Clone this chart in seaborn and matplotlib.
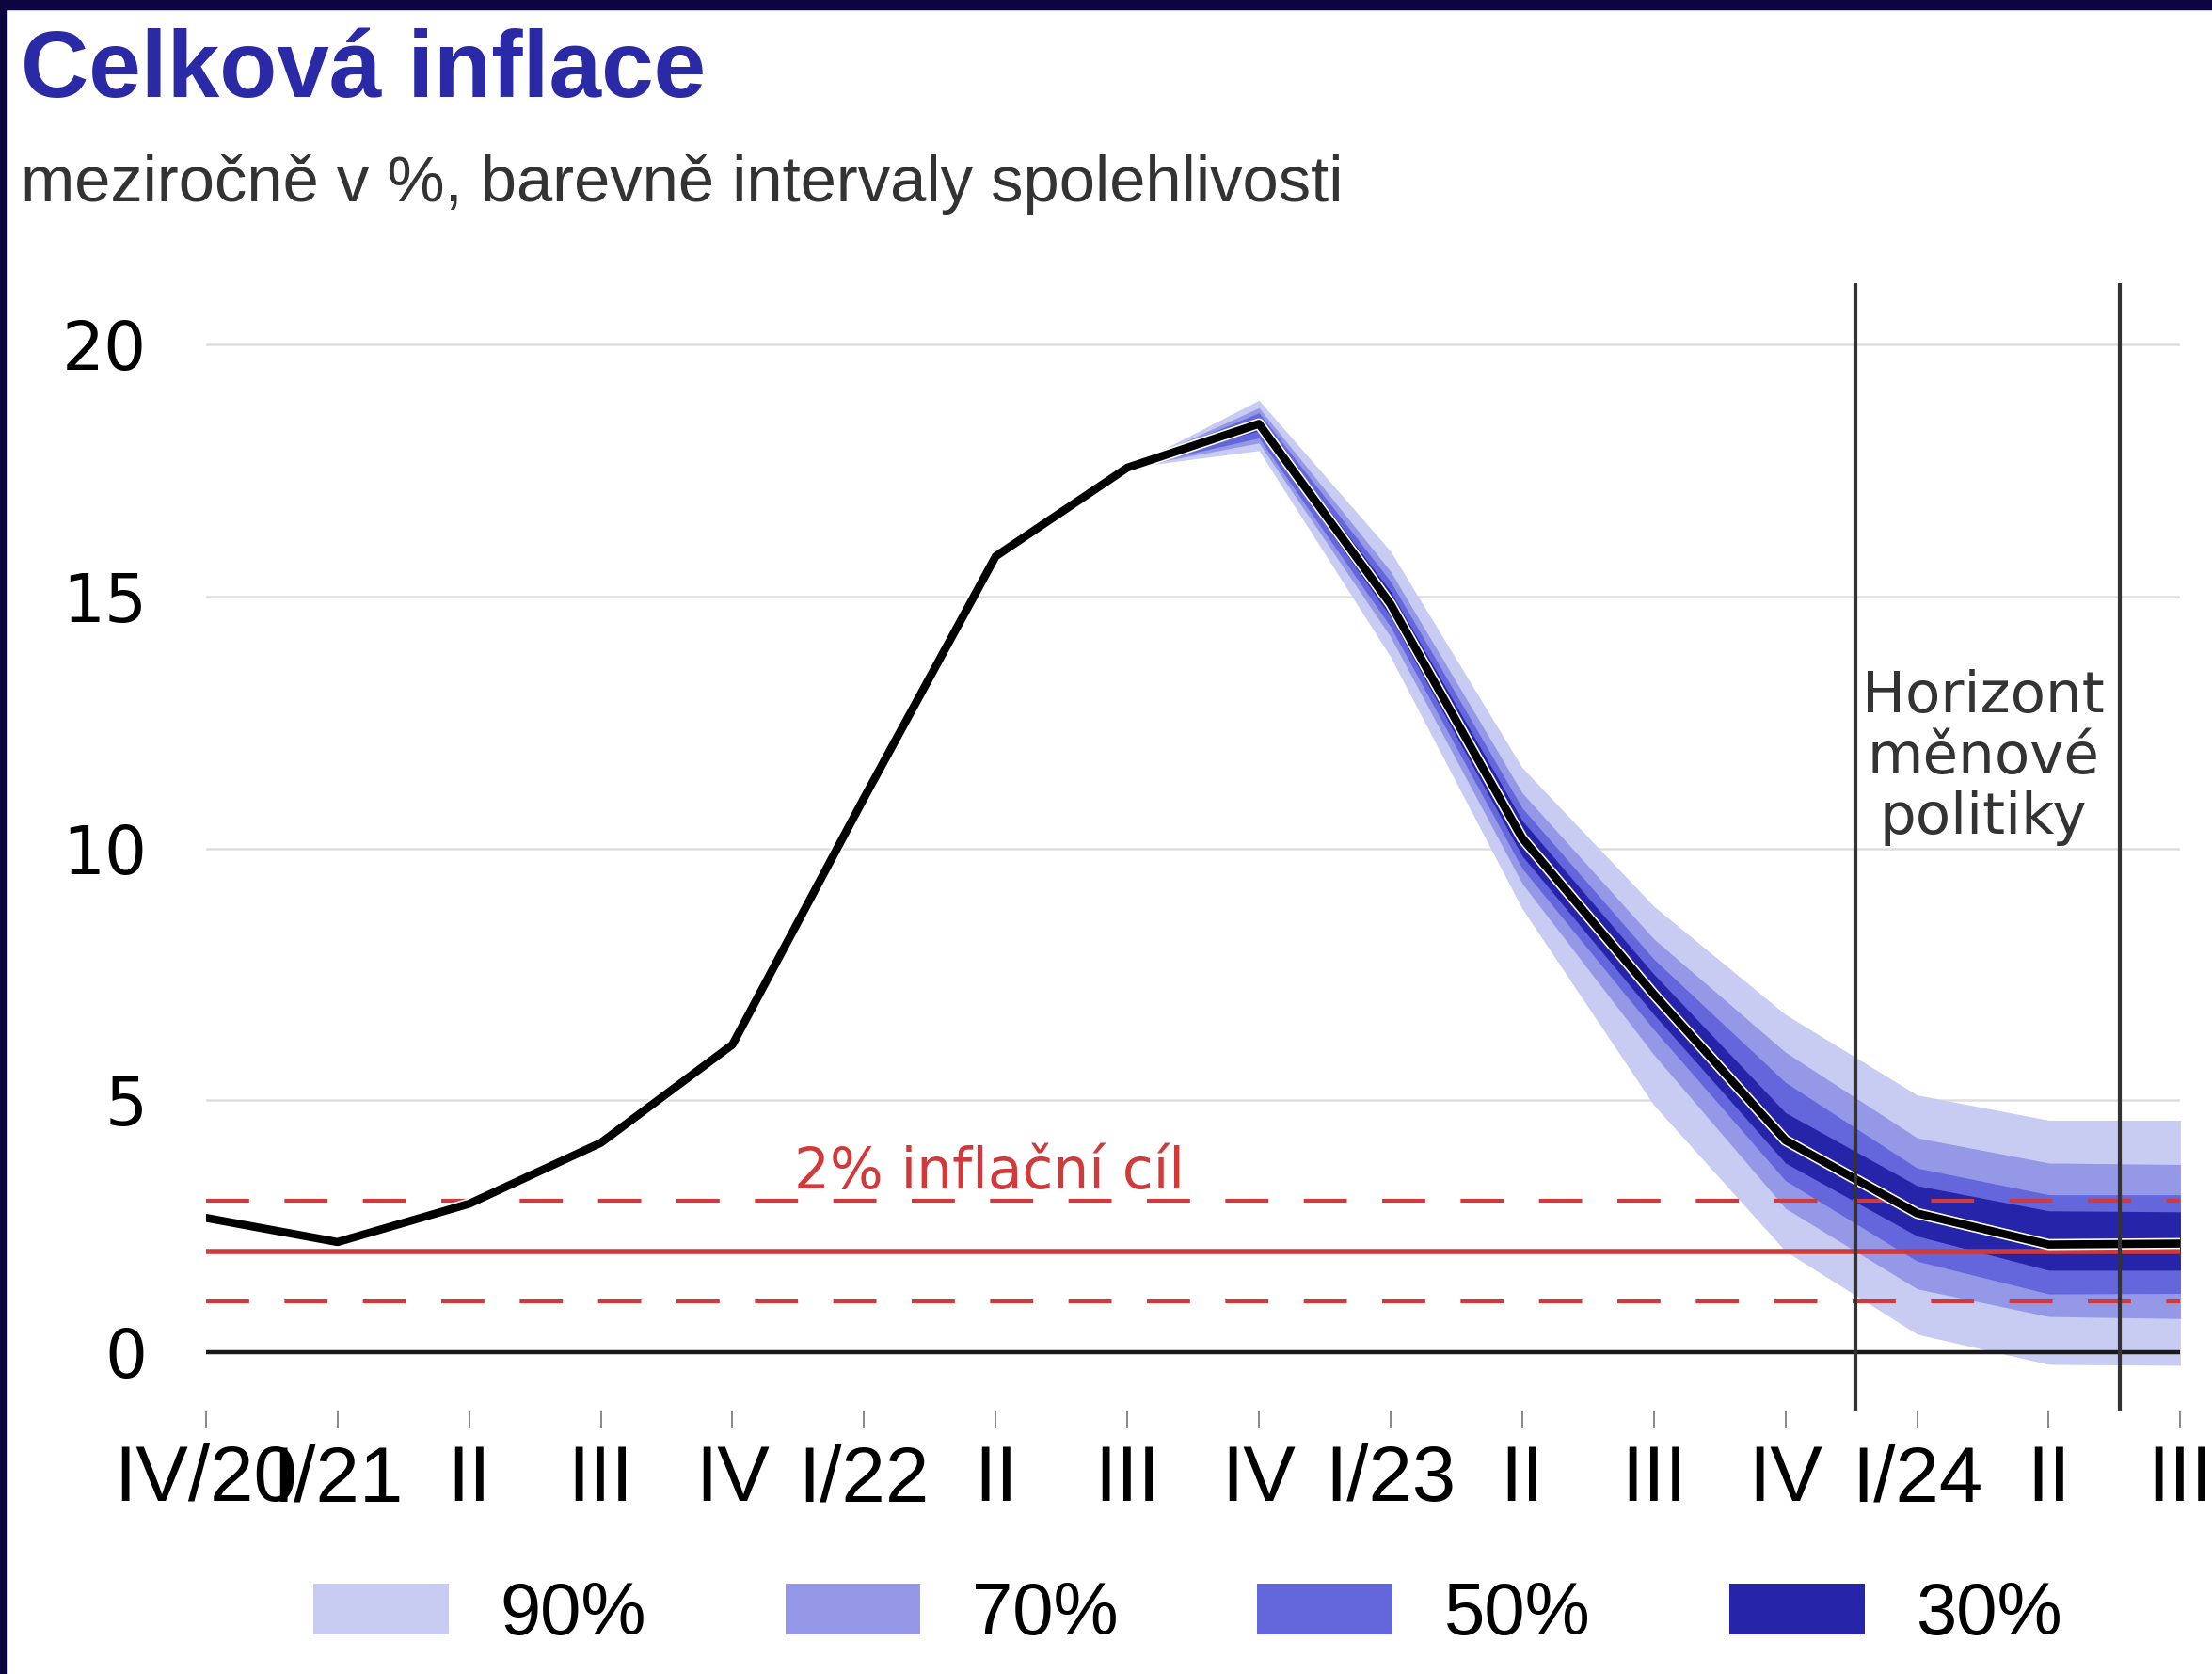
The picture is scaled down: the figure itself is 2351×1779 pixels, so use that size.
import numpy as np
import pandas as pd
import matplotlib
matplotlib.use("Agg")
import matplotlib.pyplot as plt
import matplotlib.patheffects as pe
from matplotlib.patches import Patch, Rectangle
import seaborn as sns

# quarters IV/20 .. III/24
quarters = ["IV/20", "I/21", "II", "III", "IV", "I/22", "II", "III", "IV",
            "I/23", "II", "III", "IV", "I/24", "II", "III"]
inflation = [2.66, 2.18, 2.94, 4.15, 6.1, 11.0, 15.8, 17.56, 18.43,
             14.85, 10.2, 7.1, 4.2, 2.75, 2.13, 2.15]

# fan starts at III/22 (index 7)
fan_start = 7
up90 = [17.56, 18.9, 15.9, 11.6, 8.85, 6.7, 5.1, 4.6, 4.6]
lo90 = [17.56, 17.9, 13.8, 8.8, 4.9, 2.0, 0.35, -0.25, -0.27]
up70 = [17.56, 18.75, 15.5, 11.1, 8.2, 5.95, 4.25, 3.75, 3.72]
lo70 = [17.56, 18.05, 14.2, 9.3, 5.9, 2.85, 1.25, 0.7, 0.66]
up50 = [17.56, 18.65, 15.3, 10.8, 7.8, 5.35, 3.65, 3.12, 3.12]
lo50 = [17.56, 18.15, 14.4, 9.6, 6.4, 3.4, 1.8, 1.15, 1.16]
up30 = [17.56, 18.55, 15.1, 10.55, 7.5, 4.75, 3.3, 2.8, 2.78]
lo30 = [17.56, 18.3, 14.6, 9.85, 6.7, 3.75, 2.3, 1.62, 1.62]

band_labels = ["90%", "70%", "50%", "30%"]
band_colors = ["#c8cbf2", "#9598e6", "#6466dc", "#2624a8"]

target = 2
target_band = [1, 3]
horizon = [12.53, 14.54]

sns.set_theme(style="white")
plt.rcParams['font.family'] = ['Liberation Sans', 'DejaVu Sans']

fig = plt.figure(figsize=(23.51, 17.79), dpi=100)
ax = fig.add_axes([0.0931, 0.157, 0.8926, 0.674])

x = np.arange(len(quarters))
xf = x[fan_start:]
bands = [(lo90, up90), (lo70, up70), (lo50, up50), (lo30, up30)]
for (lo, up), c in zip(bands, band_colors):
    ax.fill_between(xf, lo, up, color=c, lw=0, zorder=2)

for y in [5, 10, 15, 20]:
    ax.axhline(y, color="#dedede", lw=1.8, zorder=1)
ax.axhline(0, color="#1a1a1a", lw=3.2, zorder=3)

red = "#d03a3a"
ax.axhline(target, color=red, lw=4.0, zorder=4)
for y in target_band:
    ax.axhline(y, color=red, lw=3.0, dashes=(11, 9), zorder=4)

df = pd.DataFrame({"q": x, "v": inflation})
sns.lineplot(data=df, x="q", y="v", ax=ax, color="black", lw=6.2, zorder=5,
             path_effects=[pe.Stroke(linewidth=8.5, foreground="white"), pe.Normal()])

for h in horizon:
    ax.axvline(h, color="#333333", lw=3.0, zorder=6)

ax.text(13.5, 11.8, "Horizont\nměnové\npolitiky", ha="center", va="center",
        fontsize=44, color="#333333", family=["DejaVu Sans"], linespacing=1.12, zorder=7)
ax.text(5.95, 3.55, "2% inflační cíl", ha="center", va="center",
        fontsize=43, color=red, family=["DejaVu Sans"], zorder=7)

ax.set_xlim(0, 15)
ax.set_ylim(-1.18, 21.23)
ax.set_yticks([0, 5, 10, 15, 20])
ax.set_yticklabels(["0", "5", "10", "15", "20"], family=["DejaVu Sans"], fontsize=51, color="black")
ax.set_xticks(x)
ax.set_xticklabels(quarters, family=["Liberation Sans Narrow", "Liberation Sans"], fontsize=60, color="black")
ax.tick_params(axis="x", length=13, width=1.4, color="#888888", pad=12, direction="out", bottom=True)
ax.tick_params(axis="y", length=0, pad=45)
ax.set_xlabel("")
ax.set_ylabel("")
for s in ax.spines.values():
    s.set_visible(False)
ax.grid(False)

fig.text(0.0094, 0.983, "Celková inflace", fontsize=72, fontweight="bold",
         color="#2a29a6", ha="left", va="top")
fig.text(0.0094, 0.908, "meziročně v %, barevně intervaly spolehlivosti", fontsize=49.5,
         color="#333333", ha="left", va="top")

handles = [Patch(facecolor=c, edgecolor="none") for c in band_colors]
leg = fig.legend(handles, band_labels, loc="center", bbox_to_anchor=(0.537, 0.035), ncol=4,
                 frameon=False, handlelength=1.85, handleheight=0.7, handletextpad=0.7,
                 columnspacing=1.9, prop={"family": ["Liberation Sans Narrow", "Liberation Sans"], "size": 56})
for t in leg.get_texts():
    t.set_color("black")

# navy frame at top and left
fig.patches.append(Rectangle((0, 1 - 10 / 1779), 1, 10 / 1779, transform=fig.transFigure,
                             color="#0c0640", zorder=10))
fig.patches.append(Rectangle((0, 0), 6 / 2351, 1, transform=fig.transFigure,
                             color="#0c0640", zorder=10))

fig.savefig("out.png", dpi=100)
